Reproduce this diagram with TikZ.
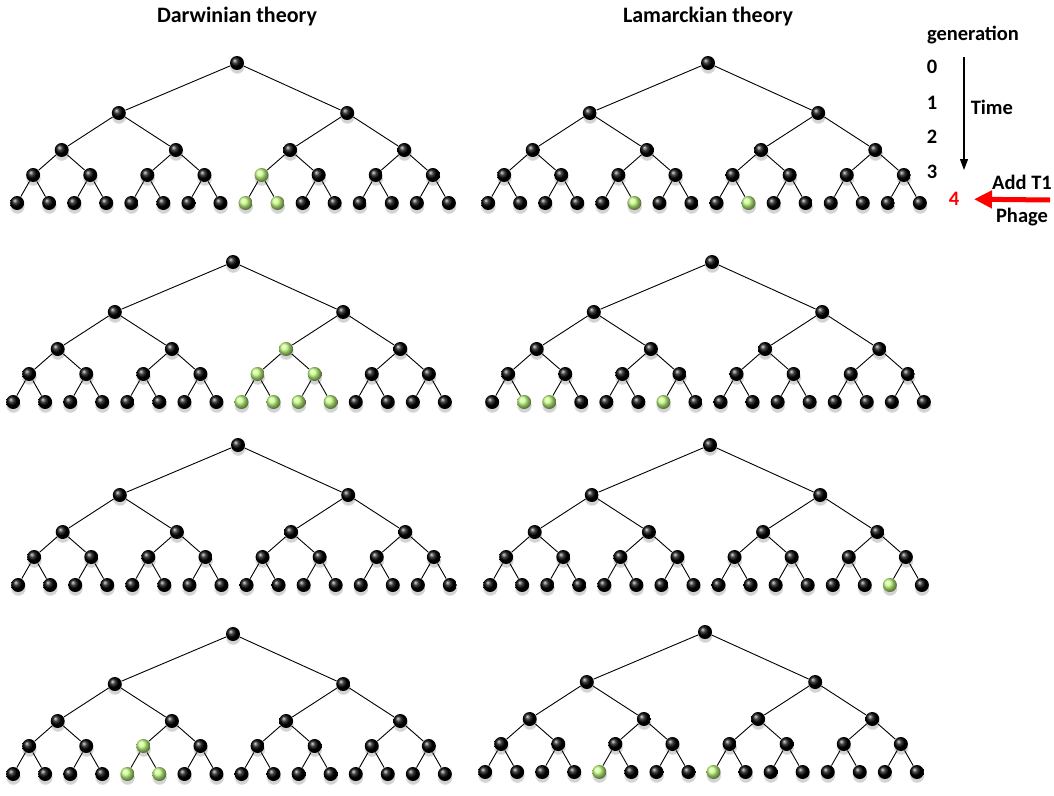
\documentclass[tikz,border=0pt]{standalone}
\usepackage{fontspec}
\setmainfont{Carlito}
\usetikzlibrary{arrows.meta}
\usetikzlibrary{shadows}
\definecolor{phagegreen}{RGB}{196,255,128}

% one lineage: name, root x, root y, green cells
\newcommand{\lineage}[4]{%
  \begin{scope}[shift={(#2,#3)},#4]
    \node[cell,g0-0/.try] (#1-0-0) at (0,0) {};
    \foreach \l/\y in {1/50,2/87,3/112}{
      \pgfmathtruncatemacro{\cnt}{2^\l}
      \pgfmathtruncatemacro{\last}{\cnt-1}
      \pgfmathtruncatemacro{\up}{\l-1}
      \foreach \i in {0,...,\last}{
        \pgfmathtruncatemacro{\pa}{floor(\i/2)}
        \node[cell,g\l-\i/.try] (#1-\l-\i) at ({456.8/\cnt*(\i-\last/2)-4},\y) {};
        \draw (#1-\up-\pa) -- (#1-\l-\i);
      }
    }
    \foreach \i in {0,...,15}{
      \pgfmathtruncatemacro{\pa}{floor(\i/2)}
      \node[cell,g4-\i/.try] (#1-4-\i) at ({57.1*(\pa-3.5)-4+32*(mod(\i,2)-0.5)},140) {};
      \draw (#1-3-\pa) -- (#1-4-\i);
    }
  \end{scope}}

\begin{document}
\begin{tikzpicture}[>={Triangle[length=11pt,width=8pt]},x=1pt,y=-1pt,line width=0.9pt,
      cell/.style={circle,inner sep=0pt,minimum size=14pt,ball color=black,
        circular drop shadow={shadow xshift=0pt,shadow yshift=-3pt,shadow scale=1.1,opacity=0.35}},
      live/.style={ball color=phagegreen},
      green/.style={g#1/.style={live}},
      head/.style={font=\bfseries\fontsize{22}{26}\selectfont},
      gentext/.style={font=\bfseries\fontsize{20.5}{24}\selectfont}]
    \useasboundingbox (0,0) rectangle (1054,795);

    \node[head] (dtitle) at (237,17) {Darwinian theory};
    \node[head] (ltitle) at (708,17) {Lamarckian theory};

    \lineage{D1}{237}{63}{green=3-4,green=4-8,green=4-9}
    \lineage{L1}{708}{63}{green=4-5,green=4-9}
    \lineage{D2}{233}{262}{green=2-2,green=3-4,green=3-5,green=4-8,green=4-9,green=4-10,green=4-11}
    \lineage{L2}{712}{262}{green=4-1,green=4-2,green=4-6}
    \lineage{D3}{238}{445}{}
    \lineage{L3}{710}{445}{green=4-14}
    \lineage{D4}{233}{634}{green=3-2,green=4-4,green=4-5}
    \lineage{L4}{705}{632}{green=4-4,green=4-8}

    \node[gentext] (gen) at (973,35) {generation};
    \node[gentext] (g0) at (932,67) {0};
    \node[gentext] (g1) at (932,103) {1};
    \node[gentext] (g2) at (932,137) {2};
    \node[gentext] (g3) at (932,172) {3};
    \node[gentext,text=red] (g4) at (954,199) {4};
    \node[gentext,anchor=west] (time) at (967,107) {Time};
    \node[gentext] (add) at (1022,182) {Add T1};
    \node[gentext] (phage) at (1022,217) {Phage};

    \coordinate (t0) at (964,57);
    \coordinate (t1) at (964,170);
    \coordinate (ph) at (1050,200);
    \draw[->,line width=1.2pt] (t0) -- (t1);
    \draw[-{Triangle[length=18pt,width=17pt]},red,line width=5pt,shorten >=11pt] (ph) -- (g4);
\end{tikzpicture}
\end{document}
